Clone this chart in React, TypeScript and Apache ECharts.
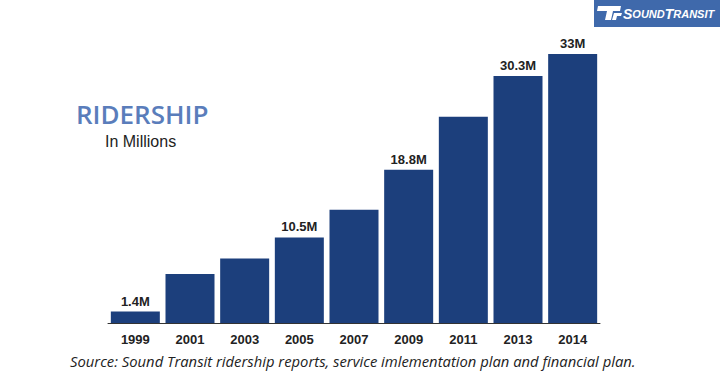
import React, { useEffect, useRef } from "react";
import * as echarts from "echarts";

const years = ["1999", "2001", "2003", "2005", "2007", "2009", "2011", "2013", "2014"];
const ridership = [1.4, 6.0, 7.9, 10.5, 13.9, 18.8, 25.3, 30.3, 33];
const barLabels = ["1.4M", "", "", "10.5M", "", "18.8M", "", "30.3M", "33M"];

const BAR = "#1c3f7c";

export default function App() {
  const ref = useRef<HTMLDivElement>(null);
  useEffect(() => {
    if (!ref.current) return;
    const chart = echarts.init(ref.current, null, { renderer: "svg" });
    chart.setOption({
      animation: false,
      backgroundColor: "#ffffff",
      grid: { left: 108, right: 120, top: 54, bottom: 55 },
      xAxis: {
        type: "category",
        data: years,
        axisLine: { show: true, lineStyle: { color: "#333333", width: 1 } },
        axisTick: { show: false },
        axisLabel: {
          color: "#222222",
          fontFamily: "Liberation Sans, Arial, sans-serif",
          fontWeight: "bold",
          fontSize: 13,
          margin: 10,
        },
      },
      yAxis: { type: "value", min: 0, max: 33, show: false, splitLine: { show: false } },
      series: [
        {
          type: "bar",
          barWidth: 49,
          data: ridership.map((v, i) => ({
            value: v,
            label: {
              show: barLabels[i] !== "",
              formatter: barLabels[i],
            },
          })),
          itemStyle: { color: BAR },
          label: {
            position: "top",
            distance: 4,
            color: "#222222",
            fontFamily: "Liberation Sans, Arial, sans-serif",
            fontWeight: "bold",
            fontSize: 13,
          },
        },
      ],
      graphic: [
        {
          type: "text",
          left: 76,
          top: 101,
          style: {
            text: "RIDERSHIP",
            fill: "#5a7dbb",
            font: "600 26px 'Open Sans', 'DejaVu Sans', sans-serif",
          },
        },
        {
          type: "text",
          left: 105,
          top: 133,
          style: {
            text: "In Millions",
            fill: "#222222",
            font: "16px 'Liberation Sans', Arial, sans-serif",
          },
        },
        {
          type: "text",
          left: 70,
          top: 353,
          style: {
            text: "Source: Sound Transit ridership reports, service imlementation plan and financial plan.",
            fill: "#222222",
            font: "italic 14.8px 'Open Sans', 'DejaVu Sans', sans-serif",
          },
        },
        {
          type: "rect",
          shape: { x: 594, y: 0, width: 126, height: 27 },
          style: { fill: "#3f69ab" },
        },
        {
          type: "polygon",
          shape: { points: [[598, 6], [621, 6], [620, 11], [613, 11], [611, 20], [605, 20], [607, 11], [597, 11]] },
          style: { fill: "#ffffff" },
        },
        {
          type: "polygon",
          shape: { points: [[614, 13], [622, 13], [621, 16], [617, 16], [616, 20], [612, 20]] },
          style: { fill: "#ffffff" },
        },
        {
          type: "text",
          left: 623,
          top: 7,
          style: {
            text: "{b|S}{s|OUND}{b|T}{s|RANSIT}",
            fill: "#ffffff",
            rich: {
              b: { fontSize: 14, fontWeight: "bold", fontStyle: "italic", fill: "#ffffff", fontFamily: "Liberation Sans, Arial, sans-serif" },
              s: { fontSize: 11, fontWeight: "bold", fontStyle: "italic", fill: "#ffffff", fontFamily: "Liberation Sans, Arial, sans-serif" },
            },
          },
        },
      ],
    });
    return () => chart.dispose();
  }, []);
  return <div ref={ref} style={{ width: 720, height: 378, position: "absolute", left: 0, top: 0 }} />;
}
